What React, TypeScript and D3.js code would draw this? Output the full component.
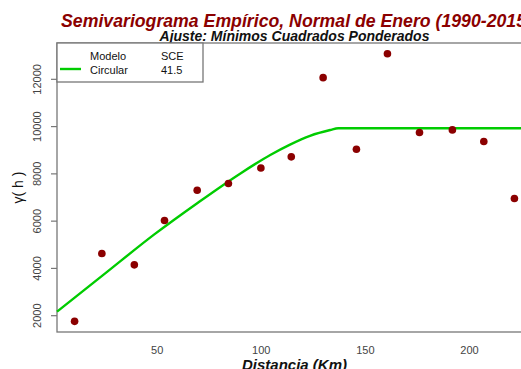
import React from "react";
import * as d3 from "d3";

// Empirical semivariogram points (distance in Km, semivariance)
const distances = [10.3, 23.4, 39.0, 53.5, 69.2, 84.2, 99.8, 114.4, 129.7, 145.7, 160.6, 176.0, 191.8, 206.9, 221.6];
const gammas = [1760, 4630, 4150, 6030, 7310, 7590, 8250, 8720, 12070, 9040, 13080, 9750, 9860, 9370, 6960];

// Fitted circular model line
const modelDist = [1.85, 25, 48.6, 69.2, 89.8, 104.3, 113.8, 123.4, 133.1, 137, 231];
const modelGamma = [2170, 3790, 5440, 6760, 8010, 8800, 9240, 9610, 9856, 9930, 9930];

const xTicks = [50, 100, 150, 200];
const yTicks = [2000, 4000, 6000, 8000, 10000, 12000];

const legendModel = "Circular";
const legendSCE = "41.5";

const W = 521;
const H = 369;
const L = 57;
const R = 532;
const T = 43;
const B = 332;
const FONT = "'Liberation Sans', Arial, Helvetica, sans-serif";

export default function App() {
  const x = d3.scaleLinear().domain([1.85, 230.05]).range([L, R]);
  const y = d3.scaleLinear().domain([1310, 13537]).range([B, T]);
  const line = d3
    .line<number>()
    .x((_, i) => x(modelDist[i]))
    .y((_, i) => y(modelGamma[i]))
    .curve(d3.curveMonotoneX);
  const cx = (L + R) / 2;
  const axisCol = "#777";
  const tickTextCol = "#444";

  return (
    <svg
      width={W}
      height={H}
      style={{ position: "absolute", left: 0, top: 0, background: "#fff" }}
      fontFamily={FONT}
    >
      <rect x={0} y={0} width={W} height={H} fill="#fff" />
      <text
        x={cx + 2}
        y={26.5}
        textAnchor="middle"
        fontSize={17.7}
        fontWeight="bold"
        fontStyle="italic"
        fill="#8B0000"
      >
        Semivariograma Empírico, Normal de Enero (1990-2015)
      </text>
      <text
        x={cx}
        y={41}
        textAnchor="middle"
        fontSize={14}
        fontWeight="bold"
        fontStyle="italic"
        fill="#111"
      >
        Ajuste: Mínimos Cuadrados Ponderados
      </text>

      {/* plot box */}
      <rect x={L} y={T} width={R - L} height={B - T} fill="none" stroke={axisCol} strokeWidth={1.3} />

      {/* y ticks */}
      {yTicks.map((t) => (
        <g key={t}>
          <line x1={L - 6} x2={L} y1={y(t)} y2={y(t)} stroke={axisCol} strokeWidth={1.2} />
          <text
            transform={`translate(${L - 16},${y(t)}) rotate(-90)`}
            textAnchor="middle"
            fontSize={11}
            fill={tickTextCol}
          >
            {t}
          </text>
        </g>
      ))}
      {/* x tick labels */}
      {xTicks.map((t) => (
        <text key={t} x={x(t)} y={354} textAnchor="middle" fontSize={11} fill={tickTextCol}>
          {t}
        </text>
      ))}

      {/* axis titles */}
      <text
        x={cx}
        y={370}
        textAnchor="middle"
        fontSize={15}
        fontWeight="bold"
        fontStyle="italic"
        fill="#111"
      >
        Distancia (Km)
      </text>
      <text
        transform={`translate(23,${(T + B) / 2}) rotate(-90)`}
        textAnchor="middle"
        fontSize={14}
        fill="#111"
      >
        γ( h )
      </text>

      {/* model line */}
      <path d={line(modelDist) || ""} fill="none" stroke="#00CC00" strokeWidth={2.4} />

      {/* points */}
      {distances.map((d, i) => (
        <circle key={i} cx={x(d)} cy={y(gammas[i])} r={3.8} fill="#8B0000" />
      ))}

      {/* legend */}
      <rect x={L} y={T} width={146} height={39} fill="#fff" stroke={axisCol} strokeWidth={1.3} />
      <text x={90} y={60} fontSize={11} fill="#111">Modelo</text>
      <text x={161} y={60} fontSize={11} fill="#111">SCE</text>
      <line x1={60} x2={81} y1={69} y2={69} stroke="#00CC00" strokeWidth={2.4} />
      <text x={90} y={74} fontSize={11} fill="#111">{legendModel}</text>
      <text x={161} y={74} fontSize={11} fill="#111">{legendSCE}</text>
    </svg>
  );
}
